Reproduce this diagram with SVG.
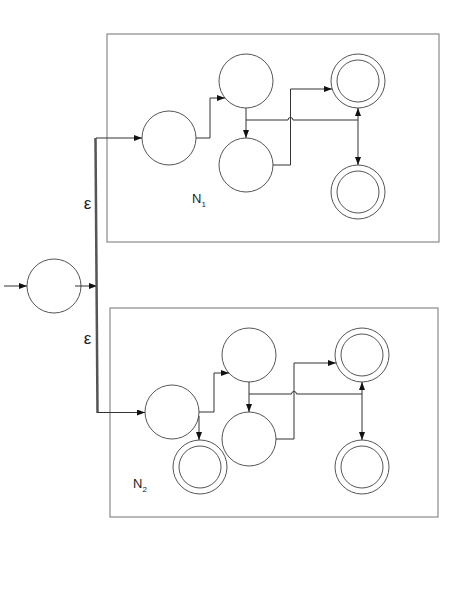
<svg xmlns="http://www.w3.org/2000/svg" width="450" height="600" viewBox="0 0 450 600">
<style>
.box{fill:none;stroke:#8a8a8a;stroke-width:1.2}
.st{fill:#fff;stroke:#555;stroke-width:1}
.in{fill:none;stroke:#555;stroke-width:1}
.ln{fill:none;stroke:#333;stroke-width:1}
.thick{fill:none;stroke:#555;stroke-width:2.5}
.lbl{font-family:"Liberation Sans",Arial,sans-serif;fill:#222}
</style>
<defs>
<marker id="ah" viewBox="0 0 8 6" refX="8" refY="3" markerWidth="8" markerHeight="6" markerUnits="userSpaceOnUse" orient="auto-start-reverse">
<path d="M0,0 L8,3 L0,6 z" fill="#111"/>
</marker>
</defs>
<rect class="box" x="107" y="34" width="332" height="208"/>
<rect class="box" x="110" y="308" width="328" height="209"/>
<g id="start"><circle class="st" cx="54" cy="286" r="27"/></g>
<g id="n1_s1"><circle class="st" cx="169" cy="138" r="27"/></g>
<g id="n1_s2"><circle class="st" cx="246" cy="81" r="27"/></g>
<g id="n1_s3"><circle class="st" cx="246" cy="165" r="27"/></g>
<g id="n1_f1"><circle class="st" cx="358" cy="81" r="27"/><circle class="in" cx="358" cy="81" r="21"/></g>
<g id="n1_f2"><circle class="st" cx="358" cy="192" r="27"/><circle class="in" cx="358" cy="192" r="21"/></g>
<g id="n2_s1"><circle class="st" cx="172" cy="412" r="27"/></g>
<g id="n2_s2"><circle class="st" cx="249" cy="355" r="27"/></g>
<g id="n2_s3"><circle class="st" cx="249" cy="439" r="27"/></g>
<g id="n2_f1"><circle class="st" cx="362" cy="355" r="27"/><circle class="in" cx="362" cy="355" r="21"/></g>
<g id="n2_f2"><circle class="st" cx="362" cy="467" r="27"/><circle class="in" cx="362" cy="467" r="21"/></g>
<g id="n2_f3"><circle class="st" cx="200" cy="467" r="27"/><circle class="in" cx="200" cy="467" r="21"/></g>
<g id="connectors">
<path class="ln" d="M4,286 H27" marker-end="url(#ah)"/>
<path class="ln" d="M75,286 H97" marker-end="url(#ah)"/>
<path class="thick" d="M95.5,138 L97.5,413"/>
<path class="ln" d="M96,138 H142" marker-end="url(#ah)"/>
<path class="ln" d="M97.5,412.5 H145" marker-end="url(#ah)"/>
<path class="ln" d="M196,138 H210 V98 H225" marker-end="url(#ah)"/>
<path class="ln" d="M246,108 V138" marker-end="url(#ah)"/>
<path class="ln" d="M246,120 H288 a2.5,2.5 0 0 1 5,0 H358"/>
<path class="ln" d="M273,165 H290.5 V89 H332" marker-end="url(#ah)"/>
<path class="ln" d="M358,108 V165" marker-start="url(#ah)" marker-end="url(#ah)"/>
<path class="ln" d="M199,412 H214 V373 H229" marker-end="url(#ah)"/>
<path class="ln" d="M199,416 V440" marker-end="url(#ah)"/>
<path class="ln" d="M249,382 V412" marker-end="url(#ah)"/>
<path class="ln" d="M249,394 H291.5 a2.5,2.5 0 0 1 5,0 H362"/>
<path class="ln" d="M276,439 H294 V363 H336" marker-end="url(#ah)"/>
<path class="ln" d="M362,382 V440" marker-start="url(#ah)" marker-end="url(#ah)"/>
</g>
<text class="lbl" x="87.5" y="209" font-size="17" text-anchor="middle">ε</text>
<text class="lbl" x="87.5" y="344" font-size="17" text-anchor="middle">ε</text>
<text class="lbl" x="192" y="203" font-size="13">N<tspan font-size="8" dy="4">1</tspan></text>
<text class="lbl" x="133" y="488" font-size="13">N<tspan font-size="8" dy="4">2</tspan></text>
</svg>
